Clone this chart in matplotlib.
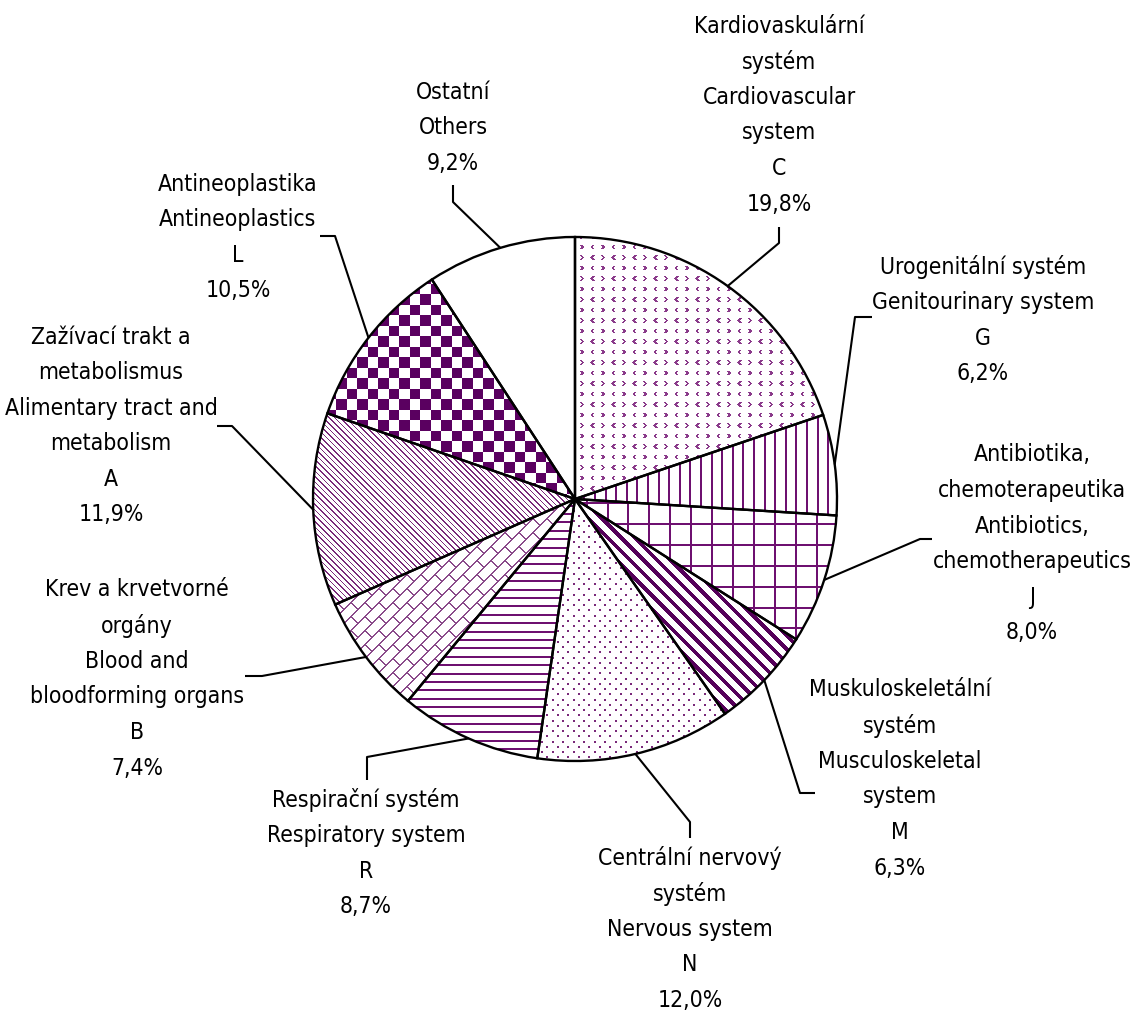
import os
import numpy as np
import matplotlib
matplotlib.use('Agg')
from matplotlib import pyplot as plt
from matplotlib import font_manager as fm

# ---- data ----
codes = ['C', 'G', 'J', 'M', 'N', 'R', 'B', 'A', 'L', '']
shares = [19.8, 6.2, 8.0, 6.3, 12.0, 8.7, 7.4, 11.9, 10.5, 9.2]
names_cz = ['Kardiovaskulární\nsystém', 'Urogenitální systém',
            'Antibiotika,\nchemoterapeutika', 'Muskuloskeletální\nsystém',
            'Centrální nervový\nsystém', 'Respirační systém',
            'Krev a krvetvorné\norgány', 'Zažívací trakt a\nmetabolismus',
            'Antineoplastika', 'Ostatní']
names_en = ['Cardiovascular\nsystem', 'Genitourinary system',
            'Antibiotics,\nchemotherapeutics', 'Musculoskeletal\nsystem',
            'Nervous system', 'Respiratory system',
            'Blood and\nbloodforming organs', 'Alimentary tract and\nmetabolism',
            'Antineoplastics', 'Others']

# label layout (pixel coords): centre x, y of first line
label_xy = [(779, 26), (983, 267), (1032, 455), (900, 690), (690, 858),
            (366, 800), (137, 590), (111, 337), (238, 184), (453, 92)]
# leader line bends after leaving the pie edge
leader_pts = [[(779, 243), (779, 227)],
              [(855, 317), (872, 317)],
              [(920, 539), (932, 539)],
              [(800, 793), (815, 793)],
              [(690, 822), (690, 838)],
              [(367, 757), (367, 780)],
              [(262, 676), (245, 676)],
              [(232, 426), (217, 426)],
              [(335, 236), (320, 236)],
              [(453, 202), (453, 185)]]

W, H = 1132, 1015
PURPLE = '#660066'


#look for a narrow face, the original uses Arial Narrow
def pick_font():
    wanted = [('LiberationSansNarrow-Regular.ttf', 19),
              ('NotoSans-Condensed.ttf', 17.5),
              ('DejaVuSansCondensed.ttf', 16.5)]
    files = {os.path.basename(f.fname): f.fname for f in fm.fontManager.ttflist}
    for name, size in wanted:
        if name in files:
            return fm.FontProperties(fname=files[name]), size
    return fm.FontProperties(family=['Liberation Sans', 'DejaVu Sans']), 16.5

FONT, FSIZE = pick_font()

yy, xx = np.mgrid[0:H, 0:W].astype(float)


#========================================
#          fill patterns
#========================================
def pat_chevron():
    px, py = 21.0, 10.5
    lx = xx % px
    ly = yy % py
    dy = np.abs(ly - 5.0)
    left = (np.abs(lx - (3.0 + dy)) < 1.2) & (dy <= 2.4)
    right = (np.abs(lx - (15.5 - dy)) < 1.2) & (dy <= 2.4)
    return left | right

def pat_vertical():
    return (xx % 10.6) < 2.0

def pat_grid():
    return ((xx % 20.9) < 2.0) | ((yy % 20.9) < 2.0)

def pat_wide_diag():
    return ((xx - yy) % 13.5) < 5.5

def pat_dots():
    a = ((xx % 10.5) < 2) & ((yy % 10.5) < 2)
    b = (((xx + 5.25) % 10.5) < 2) & (((yy + 5.25) % 10.5) < 2)
    return a | b

def pat_horizontal():
    return (yy % 8.4) < 2.0

def pat_brick():
    s = xx + yy
    p = 14.0
    row = np.floor(s / p)
    long_lines = (s % p) < 2.0
    cross = ((xx - yy + (row % 2) * 14.0) % 28.0) < 2.0
    return long_lines | cross

def pat_thin_diag():
    return ((xx - yy) % 5.6) < 1.6

def pat_checker():
    return ((np.floor(xx / 10.5) + np.floor(yy / 10.5)) % 2) == 0

def pat_none():
    return np.zeros_like(xx, dtype=bool)

patterns = [pat_chevron, pat_vertical, pat_grid, pat_wide_diag, pat_dots,
            pat_horizontal, pat_brick, pat_thin_diag, pat_checker, pat_none]
pattern_colors = ['#8a3a8a', '#6e1070', '#6e1070', '#55005a', '#7a2a7a',
                  '#6e1070', '#8a4a8a', '#7a2a7a', '#5a0060', PURPLE]


fig = plt.figure(figsize=(W / 100, H / 100), dpi=100)
ax = fig.add_axes([0, 0, 1, 1])

center = (575, 499)
radius = 262

# pie faces (white), y axis inverted so angles run clockwise from the top
wedges, _ = ax.pie(shares, startangle=-90, counterclock=True, radius=radius,
                   center=center, frame=True,
                   wedgeprops=dict(facecolor='white', edgecolor='none'))

for i, w in enumerate(wedges):
    mask = patterns[i]()
    if not mask.any():
        continue
    rgba = np.zeros((H, W, 4))
    rgba[mask] = matplotlib.colors.to_rgba(pattern_colors[i])
    im = ax.imshow(rgba, extent=(0, W, H, 0), interpolation='nearest',
                   zorder=2)
    im.set_clip_path(w)

# outlines on top
outl, _ = ax.pie(shares, startangle=-90, counterclock=True, radius=radius,
                 center=center, frame=True,
                 wedgeprops=dict(fill=False, edgecolor='black', linewidth=1.7))
for w in outl:
    w.set_zorder(3)

# labels and leader lines
for i, w in enumerate(wedges):
    mid = np.deg2rad((w.theta1 + w.theta2) / 2)
    x0 = center[0] + radius * np.cos(mid)
    y0 = center[1] + radius * np.sin(mid)
    pts = [(x0, y0)] + leader_pts[i]
    ax.plot([p[0] for p in pts], [p[1] for p in pts], color='black',
            linewidth=1.5, zorder=4, solid_capstyle='butt')

    pct = f'{shares[i]:.1f}'.replace('.', ',') + '%'
    lines = names_cz[i].split('\n') + names_en[i].split('\n')
    if codes[i]:
        lines.append(codes[i])
    lines.append(pct)
    cx, cy = label_xy[i]
    for k, s in enumerate(lines):
        ax.text(cx, cy + k * 35.6, s, ha='center', va='center',
                fontproperties=FONT, fontsize=FSIZE, color='black')

ax.set_xlim(0, W)
ax.set_ylim(H, 0)
ax.set_aspect('equal')
ax.axis('off')

fig.savefig('out.png', dpi=100)
